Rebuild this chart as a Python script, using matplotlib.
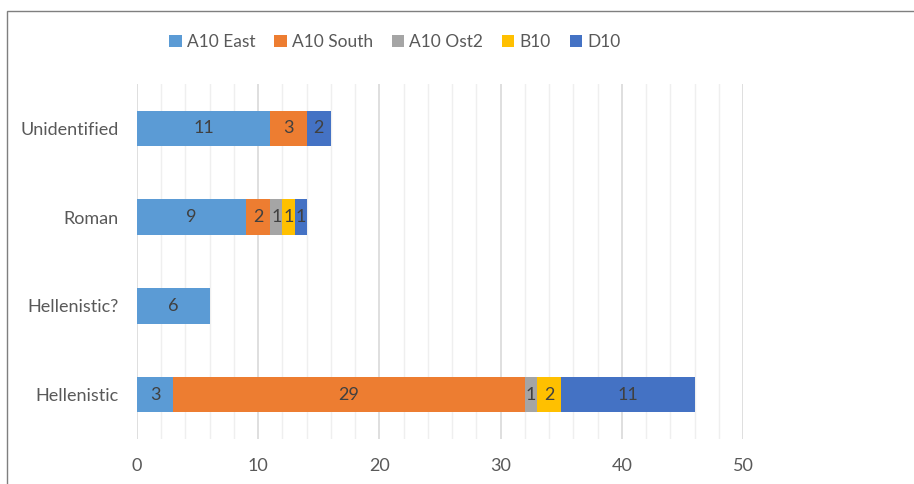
import matplotlib.pyplot as plt
import matplotlib.patches as patches
import numpy as np

categories = ["Hellenistic", "Hellenistic?", "Roman", "Unidentified"]
series_names = ["A10 East", "A10 South", "A10 Ost2", "B10", "D10"]
a10_east = [3, 6, 9, 11]
a10_south = [29, 0, 2, 3]
a10_ost2 = [1, 0, 1, 0]
b10 = [2, 0, 1, 0]
d10 = [11, 0, 1, 2]
colors = ["#5B9BD5", "#ED7D31", "#A5A5A5", "#FFC000", "#4472C4"]

plt.rcParams['font.family'] = ['Lato', 'DejaVu Sans']

fig = plt.figure(figsize=(9.14, 4.84), dpi=100)
ax = fig.add_axes([137 / 914, 1 - 439 / 484, (743 - 137) / 914, (439 - 84) / 484])

y = np.arange(len(categories))
left = np.zeros(len(categories))
for name, vals, col in zip(series_names, [a10_east, a10_south, a10_ost2, b10, d10], colors):
    vals = np.array(vals, dtype=float)
    bars = ax.barh(y, vals, left=left, height=0.4, color=col, label=name, zorder=3)
    labels = [str(int(v)) if v > 0 else "" for v in vals]
    ax.bar_label(bars, labels=labels, label_type='center', color="#404040", fontsize=13)
    left += vals

ax.set_xlim(0, 50)
ax.set_ylim(-0.5, 3.5)
ax.set_xticks(range(0, 51, 10))
ax.set_xticks(range(0, 51, 2), minor=True)
ax.set_yticks(y)
ax.set_yticklabels(categories)
ax.grid(axis='x', which='major', color="#D9D9D9", linewidth=1.2, zorder=0)
ax.grid(axis='x', which='minor', color="#EFEFEF", linewidth=1.0, zorder=0)
ax.tick_params(axis='both', which='both', length=0, colors="#595959", labelsize=13)
ax.tick_params(axis='x', pad=14)
ax.tick_params(axis='y', pad=13)
for s in ax.spines.values():
    s.set_visible(False)

fig.legend(loc='center', bbox_to_anchor=(395 / 914, 1 - 42 / 484), ncol=5,
           frameon=False, fontsize=12.5, handlelength=0.7, handleheight=0.7,
           handletextpad=0.3, columnspacing=1.1, labelcolor="#595959")

# outer chart border
fig.patches.append(patches.Rectangle((7 / 914, -0.1), 2, 1.1 - 11 / 484,
                                     transform=fig.transFigure, fill=False,
                                     edgecolor="#7F7F7F", linewidth=1))

fig.savefig("out.png", dpi=100)
